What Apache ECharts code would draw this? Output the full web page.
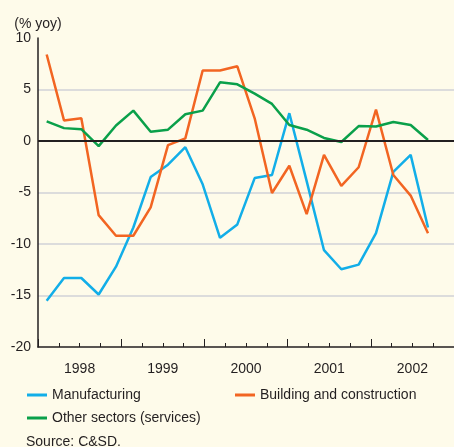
<!DOCTYPE html>
<html>
<head>
<meta charset="utf-8">
<script src="https://cdn.jsdelivr.net/npm/echarts@6/dist/echarts.min.js"></script>
<style>
  html, body { margin: 0; padding: 0; background: #fefbea; }
  #chart { width: 454px; height: 447px; }
</style>
</head>
<body>
<div id="chart"></div>
<script>
// data (% yoy), 23 readings spread over 24 equal slots of 1998-2002
const years = ['1998', '1999', '2000', '2001', '2002'];
const slots = Array.from({ length: 24 }, (_, i) => 's' + i);

const manufacturing = [-15.5, -13.3, -13.3, -14.9, -12.2, -8.4, -3.5, -2.3, -0.6, -4.2, -9.4, -8.1,
  -3.6, -3.3, 2.7, -3.9, -10.6, -12.45, -12.0, -8.95, -3.0, -1.35, -8.4];
const building = [8.4, 2.0, 2.2, -7.2, -9.2, -9.2, -6.45, -0.4, 0.25, 6.85, 6.85, 7.25,
  2.2, -5.05, -2.4, -7.1, -1.35, -4.35, -2.55, 3.05, -3.3, -5.3, -8.95];
const otherSectors = [1.9, 1.25, 1.15, -0.5, 1.5, 2.95, 0.9, 1.1, 2.6, 2.95, 5.7, 5.5,
  4.6, 3.6, 1.55, 1.1, 0.3, -0.1, 1.45, 1.4, 1.85, 1.55, 0.1];

const ink = '#231f20';
const font = "'Liberation Sans', Arial, sans-serif";

const chart = echarts.init(document.getElementById('chart'));

const legendText = { fontSize: 14, color: ink, fontFamily: font };

function lineSeries(name, data, color) {
  return {
    name: name,
    type: 'line',
    xAxisIndex: 0,
    data: data,
    symbol: 'none',
    z: 3,
    lineStyle: { color: color, width: 2.5 },
    itemStyle: { color: color }
  };
}

function legendAt(name, left, top) {
  return {
    data: [name], left: left, top: top, padding: 0,
    icon: 'rect', itemWidth: 20, itemHeight: 3,
    textStyle: legendText
  };
}

const option = {
  backgroundColor: '#fefbea',
  animation: false,
  textStyle: { fontFamily: font },
  grid: { left: 38, right: 0, top: 38, bottom: 100 },
  legend: [
    legendAt('Manufacturing', 27, 388),
    legendAt('Building and construction', 235, 388),
    legendAt('Other sectors (services)', 27, 411)
  ],
  graphic: [{
    type: 'text',
    left: 26,
    top: 435,
    style: { text: 'Source: C&SD.', fontSize: 14, fill: ink, fontFamily: font }
  }],
  xAxis: [
    {
      // data slots
      type: 'category',
      data: slots,
      boundaryGap: true,
      show: false
    },
    {
      // tick marks: years and quarters
      type: 'value',
      min: 0,
      max: 5,
      interval: 1,
      position: 'bottom',
      axisLine: { show: true, lineStyle: { color: ink, width: 1.5 } },
      axisTick: { show: true, inside: true, length: 8, lineStyle: { color: ink, width: 1 } },
      minorTick: { show: true, splitNumber: 4, length: 4, lineStyle: { color: ink, width: 1 } },
      axisLabel: { show: false },
      splitLine: { show: false }
    },
    {
      // year labels
      type: 'category',
      data: years,
      position: 'bottom',
      boundaryGap: true,
      axisLine: { show: false },
      axisTick: { show: false },
      axisLabel: { fontSize: 14, color: ink, margin: 15 }
    }
  ],
  yAxis: {
    type: 'value',
    min: -20,
    max: 10,
    interval: 5,
    name: '(% yoy)',
    nameLocation: 'end',
    nameGap: 6,
    nameTextStyle: { fontSize: 14, color: ink, align: 'center' },
    axisLine: { show: true, lineStyle: { color: ink, width: 1.5 } },
    axisTick: { show: false },
    axisLabel: { fontSize: 14, color: ink, margin: 7 },
    splitLine: {
      show: true,
      showMinLine: false,
      showMaxLine: false,
      lineStyle: { color: '#dcdcdc', width: 2 }
    }
  },
  series: [
    {
      type: 'line',
      data: [],
      z: 1,
      markLine: {
        silent: true,
        symbol: 'none',
        label: { show: false },
        lineStyle: { color: ink, width: 2, type: 'solid' },
        data: [{ yAxis: 0 }]
      }
    },
    lineSeries('Manufacturing', manufacturing, '#12aee8'),
    lineSeries('Building and construction', building, '#f26522'),
    lineSeries('Other sectors (services)', otherSectors, '#0aa04a')
  ]
};

chart.setOption(option);
</script>
</body>
</html>
